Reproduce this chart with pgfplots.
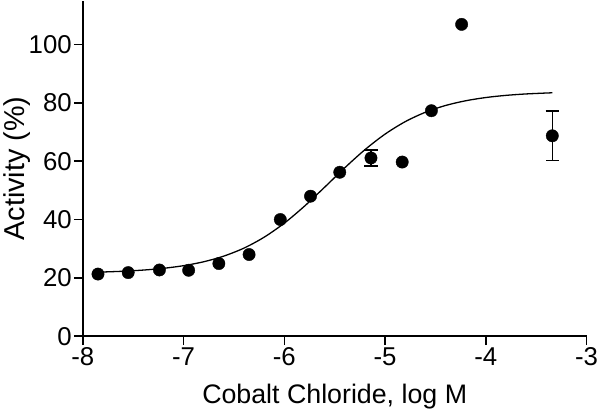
\documentclass[border=0pt]{standalone}
\usepackage{fontspec}
\setmainfont{Liberation Sans}
\usepackage{pgfplots}
\pgfplotsset{compat=1.18}
\begin{document}
\begin{tikzpicture}
\begin{axis}[
  scale only axis, width=506bp, height=337bp,
  xmin=-8, xmax=-3, ymin=0, ymax=115,
  axis lines=left, axis line style={-, line width=1.5bp},
  xtick={-8,-7,-6,-5,-4,-3}, ytick={0,20,40,60,80,100},
  tick align=outside, major tick length=9bp,
  tick style={line width=1.5bp, black},
  /pgf/number format/assume math mode=true,
  ticklabel style={font=\fontsize{26}{30}\selectfont},
  yticklabel style={inner sep=2bp},
  xticklabel style={inner sep=2bp},
  xlabel={Cobalt Chloride, log M}, ylabel={Activity (\%)},
  xlabel style={font=\fontsize{27}{32}\selectfont, at={(axis description cs:0.5,-0.2018)}, anchor=base},
  ylabel style={font=\fontsize{29}{34}\selectfont, at={(axis description cs:-0.1166,0.5)}, anchor=base},
  clip=false,
]
% fitted curve
\addplot[black, line width=1.3bp, smooth, no marks] coordinates {
  (-7.85,21.95) (-7.6,22.27) (-7.4,22.67) (-7.2,23.27) (-7.0,24.18)
  (-6.8,25.52) (-6.6,27.47) (-6.4,30.21) (-6.2,33.95) (-6.0,38.76)
  (-5.8,44.58) (-5.6,51.08) (-5.4,57.73) (-5.2,63.94) (-5.0,69.28)
  (-4.8,73.55) (-4.6,76.77) (-4.4,79.09) (-4.2,80.71) (-4.0,81.82)
  (-3.8,82.56) (-3.6,83.05) (-3.34,83.45)
};
% data points without visible error bars
\addplot[only marks, mark=*, mark size=6.2bp, black] coordinates {
  (-7.85,21.3) (-7.55,21.8) (-7.24,22.7) (-6.95,22.6) (-6.65,24.9)
  (-6.35,28.0) (-6.04,40.0) (-5.74,48.0) (-5.45,56.2) (-4.83,59.7)
  (-4.54,77.3) (-4.24,106.9)
};
% data points with error bars
\addplot[only marks, mark=*, mark size=6.2bp, black,
  error bars/.cd, y dir=both, y explicit,
  error bar style={line width=1.5bp, black},
  error mark options={rotate=90, mark size=6.7bp, line width=1.5bp, black}]
  coordinates {
  (-5.14,61.1) +- (0,2.7)
  (-3.34,68.7) +- (0,8.45)
};
\end{axis}
\path[use as bounding box] ([xshift=-83bp,yshift=-75bp]current axis.south west) rectangle ([xshift=11bp]current axis.north east);
\end{tikzpicture}
\end{document}
